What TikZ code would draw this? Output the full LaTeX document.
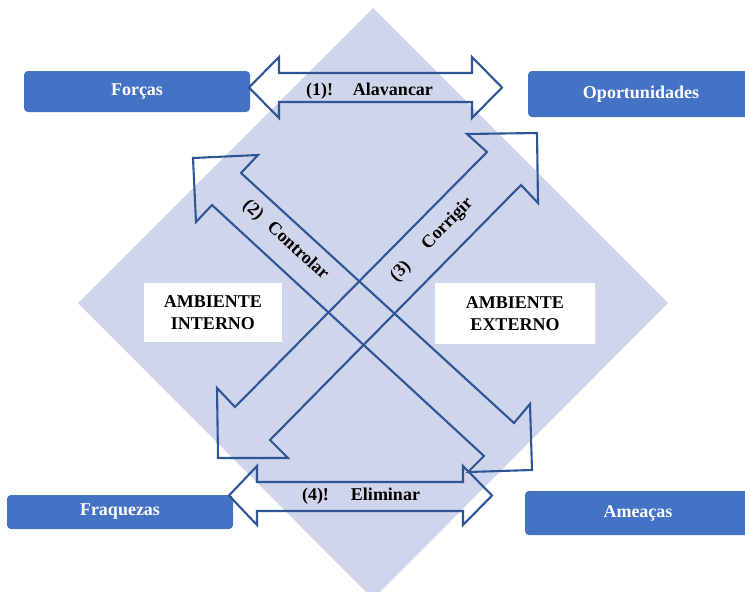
\documentclass[tikz,border=0pt]{standalone}
\usepackage{fontspec}
\setmainfont{Liberation Serif}

\definecolor{losango}{HTML}{CFD5EA}
\definecolor{azulcaixa}{HTML}{4472C4}
\definecolor{azulseta}{HTML}{2F5597}

\tikzset{
	quadro/.style={fill=azulcaixa, rounded corners=4pt, minimum width=226pt, inner sep=0pt,
		text=white, font=\fontsize{18}{21}\selectfont\bfseries},
	ambiente/.style={fill=white, inner sep=0pt, align=center,
		font=\fontsize{18}{22}\selectfont\bfseries},
	seta/.style={draw=azulseta, line width=2.1pt, line join=miter},
	rotulo/.style={inner sep=0pt, font=\fontsize{18}{21}\selectfont\bfseries}
}

\begin{document}
\begin{tikzpicture}[x=1pt,y=-1pt,>=latex]
	\clip (0, 0) rectangle (745, 592);
	\fill [losango] (373, 8) -- (668, 303) -- (373, 599) -- (78, 303) -- cycle;

	\node [quadro, minimum height=41pt] (forcas) at (137, 91.5) {Forças};
	\node [quadro, minimum height=46pt] (oportunidades) at (641, 94) {Oportunidades};
	\node [quadro, minimum height=34pt] (fraquezas) at (120, 512) {Fraquezas};
	\node [quadro, minimum height=44pt] (ameacas) at (638, 513) {Ameaças};

	\node [ambiente, minimum width=138pt, minimum height=59pt] (interno) at (213, 312.5) {AMBIENTE\\INTERNO};
	\node [ambiente, minimum width=160pt, minimum height=61pt] (externo) at (515, 313.5) {AMBIENTE\\EXTERNO};

	% (1) e (4): setas horizontais
	\draw [seta] (249, 87.5) -- (279, 57) -- (279, 73) -- (472, 73) -- (472, 57) --
				(502, 87.5) -- (472, 118) -- (472, 102) -- (279, 102) -- (279, 118) -- cycle;
	\draw [seta] (229, 495.5) -- (257, 466) -- (257, 482) -- (463, 482) -- (463, 466) --
				(492, 495.5) -- (463, 525) -- (463, 511) -- (257, 511) -- (257, 525) -- cycle;

	% (2) e (3): setas diagonais
	\draw [seta] (193, 158) -- (258, 155) -- (241, 173) -- (514, 423) -- (530, 404) --
				(532, 470) -- (468, 472) -- (484, 456) -- (212, 205) -- (196, 222) -- cycle;
	\draw [seta] (537, 133) -- (538, 203) -- (521, 185) -- (270, 440) -- (288, 458) --
				(218, 458) -- (217, 388) -- (235, 407) -- (487, 152) -- (467, 134) -- cycle;

	\node [rotulo, anchor=base] (alavancar) at (369.5, 95) {(1)!\hspace{20pt}Alavancar};
	\node [rotulo, anchor=base] (eliminar) at (361, 500) {(4)!\hspace{22pt}Eliminar};
	\node [rotulo, rotate=-42.6] (controlar) at (285.5, 240) {(2)\hspace{12pt}Controlar};
	\node [rotulo, rotate=45.5] (corrigir) at (432, 240) {(3)\hspace{24pt}Corrigir};

\end{tikzpicture}
\end{document}
